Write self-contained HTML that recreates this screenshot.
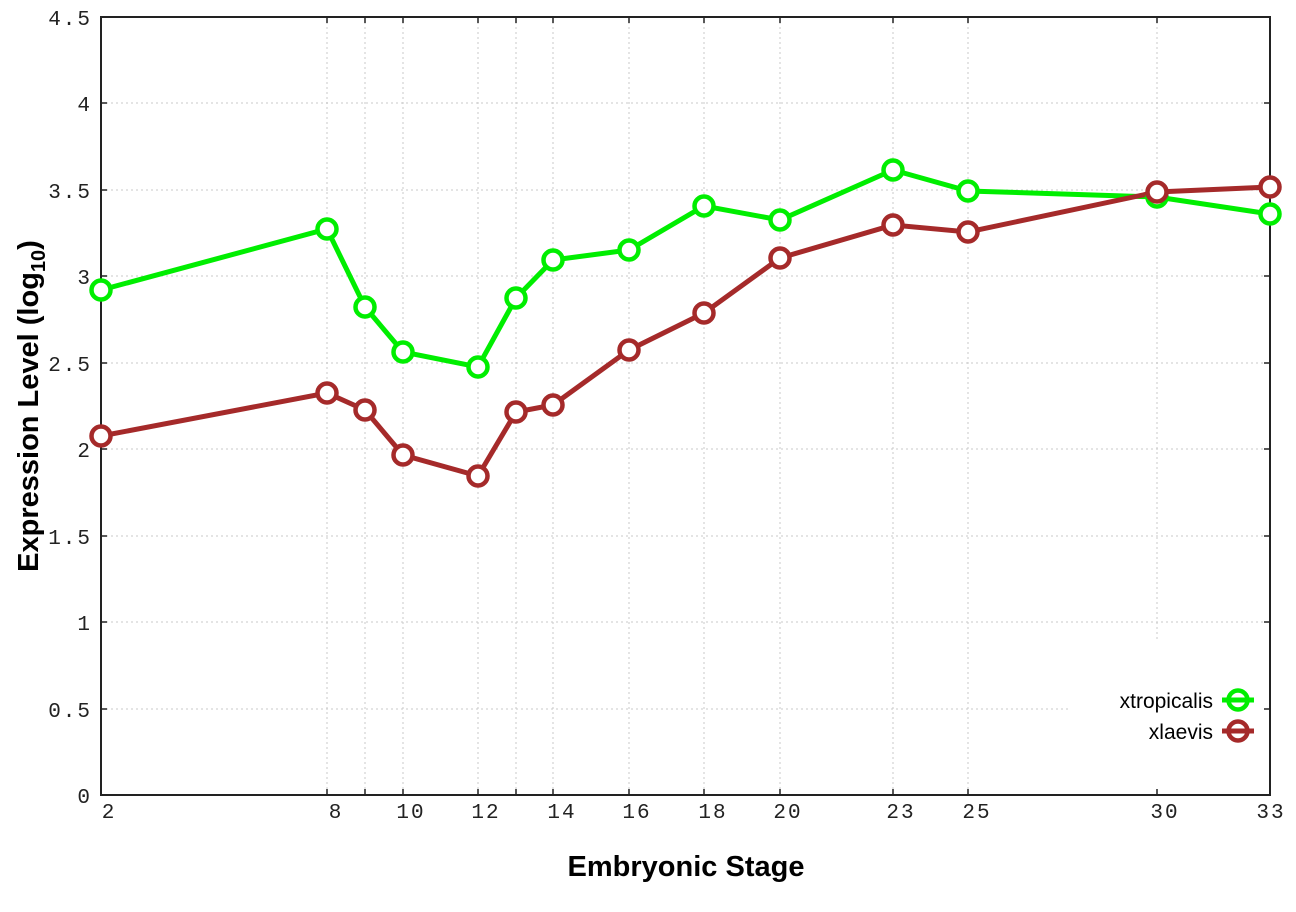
<!DOCTYPE html>
<html><head><style>body{margin:0;background:#fff}</style></head><body>
<svg width="1296" height="907" xmlns="http://www.w3.org/2000/svg">
<rect width="1296" height="907" fill="#fff"/>
<g stroke="#c8c8c8" stroke-width="1" stroke-dasharray="2,3">
<line x1="101" x2="1270" y1="103" y2="103"/><line x1="101" x2="1270" y1="190" y2="190"/><line x1="101" x2="1270" y1="276" y2="276"/><line x1="101" x2="1270" y1="363" y2="363"/><line x1="101" x2="1270" y1="449" y2="449"/><line x1="101" x2="1270" y1="536" y2="536"/><line x1="101" x2="1270" y1="622" y2="622"/><line x1="101" x2="1070" y1="709" y2="709"/>
<line y1="17" y2="795" x1="327" x2="327"/><line y1="17" y2="795" x1="365" x2="365"/><line y1="17" y2="795" x1="403" x2="403"/><line y1="17" y2="795" x1="478" x2="478"/><line y1="17" y2="795" x1="516" x2="516"/><line y1="17" y2="795" x1="553" x2="553"/><line y1="17" y2="795" x1="629" x2="629"/><line y1="17" y2="795" x1="704" x2="704"/><line y1="17" y2="795" x1="780" x2="780"/><line y1="17" y2="795" x1="893" x2="893"/><line y1="17" y2="795" x1="968" x2="968"/><line y1="17" y2="640" x1="1157" x2="1157"/>
</g>
<rect x="101" y="17" width="1169" height="778" fill="none" stroke="#222" stroke-width="2"/>
<g stroke="#222" stroke-width="1.5">
<path d="M101 103h6M101 190h6M101 276h6M101 363h6M101 449h6M101 536h6M101 622h6M101 709h6M1270 103h-6M1270 190h-6M1270 276h-6M1270 363h-6M1270 449h-6M1270 536h-6M1270 622h-6M1270 709h-6"/>
<path d="M327 795v-6M365 795v-6M403 795v-6M478 795v-6M516 795v-6M553 795v-6M629 795v-6M704 795v-6M780 795v-6M893 795v-6M968 795v-6M1157 795v-6M327 17v6M365 17v6M403 17v6M478 17v6M516 17v6M553 17v6M629 17v6M704 17v6M780 17v6M893 17v6M968 17v6M1157 17v6"/>
</g>
<g font-family="Liberation Mono, monospace" font-size="21" fill="#222" text-anchor="end" letter-spacing="2">
<text x="92" y="25">4.5</text><text x="92" y="111">4</text><text x="92" y="198">3.5</text><text x="92" y="284">3</text><text x="92" y="371">2.5</text><text x="92" y="457">2</text><text x="92" y="544">1.5</text><text x="92" y="630">1</text><text x="92" y="717">0.5</text><text x="92" y="803">0</text>
</g>
<g font-family="Liberation Mono, monospace" font-size="21" fill="#222" text-anchor="middle" letter-spacing="2">
<text x="109" y="818">2</text><text x="336" y="818">8</text><text x="411" y="818">10</text><text x="486" y="818">12</text><text x="562" y="818">14</text><text x="637" y="818">16</text><text x="713" y="818">18</text><text x="788" y="818">20</text><text x="901" y="818">23</text><text x="977" y="818">25</text><text x="1165" y="818">30</text><text x="1271" y="818">33</text>
</g>
<text x="686" y="876" font-family="Liberation Sans, sans-serif" font-weight="bold" font-size="29" text-anchor="middle" fill="#000">Embryonic Stage</text>
<text transform="translate(38,406) rotate(-90)" font-family="Liberation Sans, sans-serif" font-weight="bold" font-size="29" text-anchor="middle" fill="#000">Expression Level (log<tspan font-size="20" dy="7">10</tspan><tspan dy="-7">)</tspan></text>
<g fill="none" stroke-width="5">
<polyline stroke="#00ee00" points="101,290 327,229 365,307 403,352 478,367 516,298 553,260 629,250 704,206 780,220 893,170 968,191 1157,197 1270,214"/>
<polyline stroke="#a52a2a" points="101,436 327,393 365,410 403,455 478,476 516,412 553,405 629,350 704,313 780,258 893,225 968,232 1157,192 1270,187"/>
</g>
<g fill="#fff" stroke="#00ee00" stroke-width="4.5">
<circle cx="101" cy="290" r="9.5"/><circle cx="327" cy="229" r="9.5"/><circle cx="365" cy="307" r="9.5"/><circle cx="403" cy="352" r="9.5"/><circle cx="478" cy="367" r="9.5"/><circle cx="516" cy="298" r="9.5"/><circle cx="553" cy="260" r="9.5"/><circle cx="629" cy="250" r="9.5"/><circle cx="704" cy="206" r="9.5"/><circle cx="780" cy="220" r="9.5"/><circle cx="893" cy="170" r="9.5"/><circle cx="968" cy="191" r="9.5"/><circle cx="1157" cy="197" r="9.5"/><circle cx="1270" cy="214" r="9.5"/>
</g>
<g fill="#fff" stroke="#a52a2a" stroke-width="4.5">
<circle cx="101" cy="436" r="9.5"/><circle cx="327" cy="393" r="9.5"/><circle cx="365" cy="410" r="9.5"/><circle cx="403" cy="455" r="9.5"/><circle cx="478" cy="476" r="9.5"/><circle cx="516" cy="412" r="9.5"/><circle cx="553" cy="405" r="9.5"/><circle cx="629" cy="350" r="9.5"/><circle cx="704" cy="313" r="9.5"/><circle cx="780" cy="258" r="9.5"/><circle cx="893" cy="225" r="9.5"/><circle cx="968" cy="232" r="9.5"/><circle cx="1157" cy="192" r="9.5"/><circle cx="1270" cy="187" r="9.5"/>
</g>
<g font-family="Liberation Sans, sans-serif" font-size="21" fill="#000" text-anchor="end">
<text x="1213" y="708">xtropicalis</text><text x="1213" y="739">xlaevis</text>
</g>
<path d="M1222 700h32" stroke="#00ee00" stroke-width="5"/><circle cx="1238" cy="700" r="9.5" fill="none" stroke="#00ee00" stroke-width="4.5"/>
<path d="M1222 731h32" stroke="#a52a2a" stroke-width="5"/><circle cx="1238" cy="731" r="9.5" fill="none" stroke="#a52a2a" stroke-width="4.5"/>
</svg>
</body></html>
